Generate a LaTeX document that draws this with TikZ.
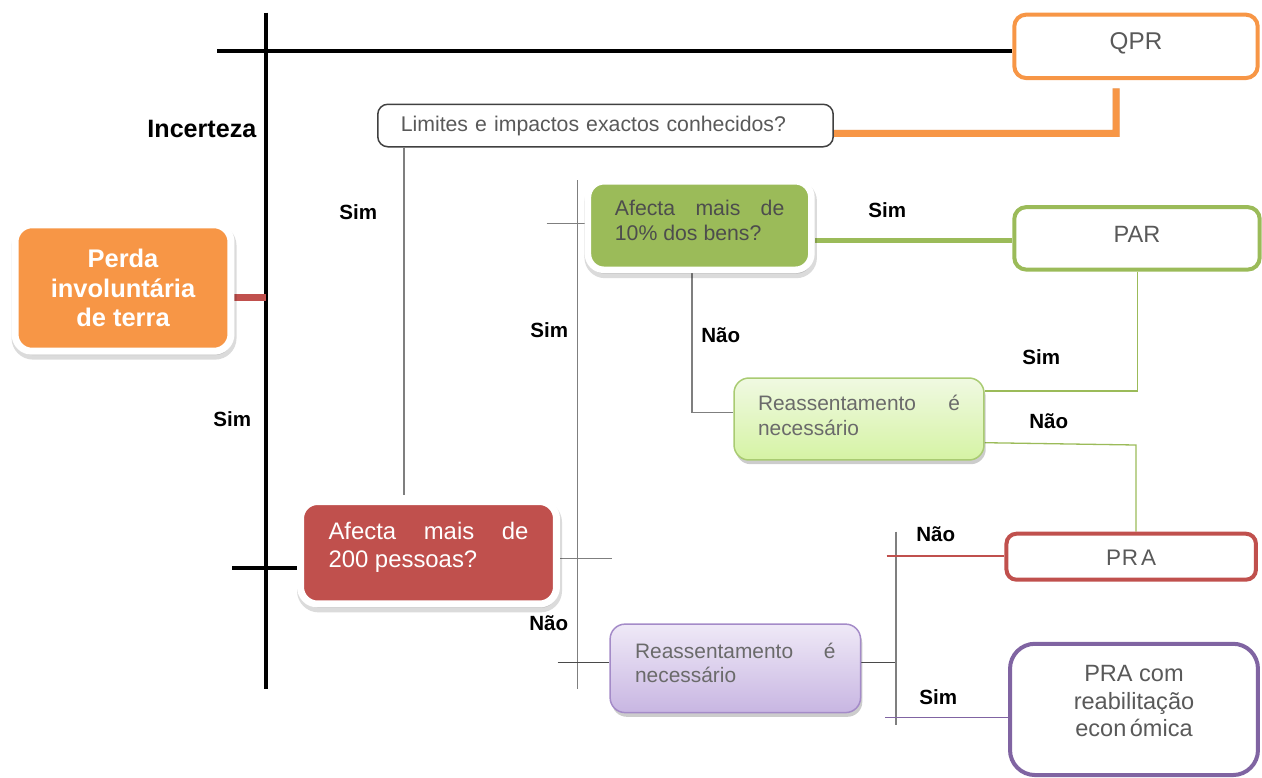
\documentclass[tikz,border=0pt]{standalone}
\usepackage{fontspec}
\setmainfont{Liberation Sans}
\usetikzlibrary{shadows,backgrounds}
\definecolor{cOrange}{HTML}{F79646}
\definecolor{cRed}{HTML}{C0504D}
\definecolor{cGreen}{HTML}{9BBB59}
\definecolor{cPurple}{HTML}{8064A2}
\definecolor{cText}{HTML}{595959}
\definecolor{cGText}{HTML}{4D4D4D}
\definecolor{cSoft}{HTML}{6A6A6A}
\definecolor{cLine}{HTML}{7F7F7F}
\definecolor{cDark}{HTML}{4A4A4A}
\definecolor{cBorder}{HTML}{404040}
\definecolor{lgTop}{HTML}{F0F9E2}
\definecolor{lgBot}{HTML}{D5F3A4}
\definecolor{lgBorder}{HTML}{A9CB72}
\definecolor{puTop}{HTML}{EFE9F7}
\definecolor{puBot}{HTML}{C8B6E2}
\definecolor{puBorder}{HTML}{A48BC8}
\tikzset{
  boxshadow/.style={drop shadow={shadow xshift=1pt, shadow yshift=-2.4pt, opacity=0.2, fill=black}},
  haloshadow/.style={drop shadow={shadow xshift=0.6pt, shadow yshift=-2.2pt, opacity=0.14, fill=black, draw=black, line width=0.18cm}},
  whitebox/.style={rectangle, draw=white, line width=0.14cm, inner sep=0pt, haloshadow},
  outbox/.style={rectangle, fill=white, line width=0.08cm, inner sep=0pt, rounded corners=0.24cm, text=cText},
  softbox/.style={rectangle, line width=0.03cm, rounded corners=0.3cm, boxshadow, text=cSoft, font=\fontsize{11.9}{13.8}\selectfont},
  lbl/.style={anchor=base west, inner sep=0pt, font=\bfseries\fontsize{11.7}{14}\selectfont},
  blackline/.style={line width=0.08cm, black},
  greyline/.style={line width=0.026cm, cLine},
  darkline/.style={line width=0.026cm, cDark},
  thinred/.style={line width=0.024cm, cRed},
  thinpurple/.style={line width=0.026cm, cPurple},
  thingreen/.style={line width=0.026cm, cGreen},
}
\begin{document}
\begin{tikzpicture}[x=0.02cm, y=-0.02cm]
\useasboundingbox (0,0) rectangle (1262,778);

% boxes
\node[whitebox, fill=cOrange, rounded corners=0.34cm, minimum width=4.32cm, minimum height=2.53cm,
      align=center, text=white, font=\bfseries\fontsize{14.5}{16.8}\selectfont]
      (perda) at (123,288) {Perda\\involuntária\\de terra};

\node[rectangle, draw=cBorder, line width=0.03cm, rounded corners=0.2cm, fill=white,
      inner xsep=0.46cm, inner ysep=0pt, minimum height=0.85cm, text width=8.19cm, align=left,
      text height=9pt, text depth=2pt, text=cText, font=\fontsize{12.1}{14}\selectfont]
      (limites) at (605.5,125.5) {Limites e impactos exactos conhecidos?};

\node[outbox, draw=cOrange, minimum width=4.87cm, minimum height=1.27cm,
      text height=9.9pt, text depth=6.5pt, font=\fontsize{13.8}{16}\selectfont]
      (qpr) at (1136,46.35) {QPR};

\node[outbox, draw=cGreen, minimum width=4.91cm, minimum height=1.25cm,
      text height=9.6pt, text depth=4.7pt, font=\fontsize{13.4}{16}\selectfont]
      (par) at (1137,238.35) {PAR};

\node[outbox, draw=cRed, rounded corners=0.2cm, minimum width=4.99cm, minimum height=0.92cm,
      text height=9.6pt, text depth=0pt, font=\fontsize{12.8}{15}\selectfont]
      (pra) at (1131.2,556.7) {P\kern0.3pt R\kern1.8pt A};

\node[outbox, draw=cPurple, rounded corners=0.5cm, inner xsep=0.3cm, inner ysep=0.44cm,
      font=\fontsize{13.4}{15.5}\selectfont]
      (pracom) at (1134,709.4) {\parbox[c][1.746cm][t]{4.36cm}{\centering PRA com\\reabilitação\\econ\kern2pt ómica}};

\node[whitebox, fill=cRed, rounded corners=0.34cm, inner xsep=0.56cm, inner ysep=0.42cm,
      text=white, font=\fontsize{13.6}{16}\selectfont]
      (red) at (428.5,552.75) {\parbox[c][1.21cm][t]{4cm}{\makebox[\linewidth][s]{Afecta mais de}\\200 pessoas?}};

\node[whitebox, line width=0.13cm, fill=cGreen, rounded corners=0.32cm, inner xsep=0.54cm, inner ysep=0.38cm,
      text=cGText, font=\fontsize{12.1}{14}\selectfont]
      (green) at (699.65,225.55) {\parbox[c][1.01cm][t]{3.39cm}{\makebox[\linewidth][s]{Afecta mais de}\\10\% dos bens?}};

\node[softbox, draw=lgBorder, top color=lgTop, bottom color=lgBot, inner xsep=0.48cm, inner ysep=0.35cm]
      (lg) at (859,419) {\parbox[c][0.94cm][t]{4.04cm}{\makebox[\linewidth][s]{Reassentamento é}\\necessário}};

\node[softbox, draw=puBorder, top color=puTop, bottom color=puBot, inner xsep=0.5cm, inner ysep=0.38cm]
      (purple) at (735.35,668.35) {\parbox[c][1.01cm][t]{4.01cm}{\makebox[\linewidth][s]{Reassentamento é}\\necessário}};

% labels
\node[lbl, anchor=base east, font=\bfseries\fontsize{14.3}{16}\selectfont] (incerteza) at (256.7,137.7) {Incerteza};
\node[lbl] (sim1) at (339,219.3) {Sim};
\node[lbl] (sim2) at (213,426) {Sim};
\node[lbl] (sim3) at (530,337) {Sim};
\node[lbl] (sim4) at (868,217.3) {Sim};
\node[lbl] (nao1) at (701,342.7) {Não};
\node[lbl] (sim5) at (1022,364) {Sim};
\node[lbl] (nao2) at (1029,428) {Não};
\node[lbl] (nao3) at (529,630.7) {Não};
\node[lbl] (nao4) at (916,541.7) {Não};
\node[lbl] (sim6) at (919,704) {Sim};

% coordinates
\coordinate (vtop) at (266,12.7);
\coordinate (vbot) at (266,689.3);
\coordinate (hl) at (217,50.7);
\coordinate (vP) at (266,297.7);
\coordinate (sR) at (232,567.7);
\coordinate (g1) at (404,495);
\coordinate (v2top) at (577.7,180);
\coordinate (v2bot) at (577.7,689);
\coordinate (s2) at (546.7,223.3);
\coordinate (s3) at (612.3,558.3);
\coordinate (s4) at (557.7,662.3);
\coordinate (v3top) at (896,531.7);
\coordinate (v3bot) at (896,725);
\coordinate (v3m) at (896,662.3);
\coordinate (g2) at (692,412.7);
\coordinate (r1) at (886.7,556);
\coordinate (p1) at (885,717.7);
\coordinate (c1) at (1137.5,391);
\coordinate (c2) at (1136,445);
\coordinate (o1) at (1116,133.3);
\coordinate (o2) at (1116,88.3);

% connectors
\begin{scope}[on background layer]
  \draw[blackline] (vtop) -- (vbot);
  \draw[blackline] (hl) -- (hl -| qpr.west);
  \draw[blackline] (sR) -- (sR -| red.west);
  \draw[line width=0.14cm, cRed] (vP -| perda.east) -- (vP);
  \draw[line width=0.14cm, black, opacity=0.15, xshift=0.04cm, yshift=-0.07cm]
       ([yshift=-0.156cm]limites.east) -- (o1) -- (o2);
  \draw[line width=0.14cm, cOrange] ([yshift=-0.156cm]limites.east) -- (o1) -- (o2);
  \draw[line width=0.1cm, black, opacity=0.12, yshift=-0.06cm]
       ([yshift=-0.303cm]green.east) -- ([yshift=-0.303cm]green.east -| par.west);
  \draw[line width=0.1cm, cGreen] ([yshift=-0.303cm]green.east) -- ([yshift=-0.303cm]green.east -| par.west);
  \draw[greyline] (g1 |- limites.south) -- (g1);
  \draw[greyline] (v2top) -- (v2bot);
  \draw[greyline] (s2) -- (s2 -| green.west);
  \draw[greyline] (s3 -| red.east) -- (s3);
  \draw[darkline] (s4) -- (s4 -| purple.west);
  \draw[darkline] (purple.east |- s4) -- (v3m);
  \draw[greyline] (v3top) -- (v3bot);
  \draw[greyline] (g2 |- green.south) -- (g2) -- (g2 -| lg.west);
  \draw[thinred] (r1) -- (r1 -| pra.west);
  \draw[thinpurple] (p1) -- (p1 -| pracom.west);
  \draw[thingreen] (c1 -| lg.east) -- (c1) -- (c1 |- par.south);
  \draw[thingreen] ([yshift=-0.474cm]lg.east) -- (c2) -- (c2 |- pra.north);
\end{scope}
\end{tikzpicture}
\end{document}
